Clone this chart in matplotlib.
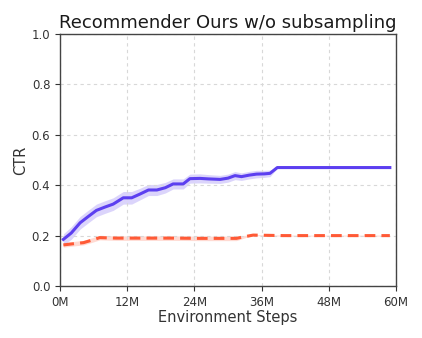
import matplotlib
matplotlib.use("Agg")
import matplotlib.pyplot as plt
import numpy as np

# Data (x in millions of environment steps)
blue_x = [0.6, 2.0, 3.6, 5.0, 6.5, 8.0, 9.5, 11.3, 12.8, 14.3, 15.8, 17.3, 18.8, 20.2, 22.0, 23.2, 25.0, 26.5, 28.6, 30.0, 31.25, 32.4, 33.8, 35.1, 36.5, 37.5, 38.8, 42, 46, 50, 54, 58.9]
blue_y = [0.185, 0.21, 0.251, 0.275, 0.30, 0.313, 0.325, 0.35, 0.35, 0.365, 0.381, 0.381, 0.39, 0.405, 0.405, 0.426, 0.427, 0.425, 0.423, 0.428, 0.438, 0.434, 0.44, 0.444, 0.445, 0.447, 0.47, 0.47, 0.47, 0.47, 0.47, 0.47]
blue_err = [0.022, 0.025, 0.025, 0.025, 0.025, 0.025, 0.025, 0.025, 0.025, 0.023, 0.022, 0.022, 0.021, 0.02, 0.02, 0.018, 0.018, 0.017, 0.016, 0.016, 0.016, 0.015, 0.015, 0.015, 0.014, 0.013, 0.003, 0.003, 0.003, 0.003, 0.003, 0.003]

red_x = [0.6, 2.5, 4.2, 5.7, 7.1, 10, 15, 20, 25, 28, 31.5, 33.0, 34.5, 40, 46, 52, 58.9]
red_y = [0.163, 0.168, 0.172, 0.182, 0.192, 0.19, 0.19, 0.19, 0.189, 0.189, 0.189, 0.196, 0.202, 0.2, 0.2, 0.2, 0.2]
red_err = [0.009, 0.009, 0.009, 0.009, 0.009, 0.009, 0.009, 0.009, 0.009, 0.009, 0.009, 0.005, 0.002, 0.002, 0.002, 0.002, 0.002]

x_ticks = [0, 12, 24, 36, 48, 60]
x_tick_labels = ["0M", "12M", "24M", "36M", "48M", "60M"]
y_ticks = [0.0, 0.2, 0.4, 0.6, 0.8, 1.0]

blue_c = "#5c3ff0"
red_c = "#ff5a36"

fig = plt.figure(figsize=(4.22, 3.38), dpi=100)
ax = fig.add_axes([60/422, 52/338, 336/422, 252/338])

bx, by, be = map(np.array, (blue_x, blue_y, blue_err))
rx, ry, re = map(np.array, (red_x, red_y, red_err))

ax.fill_between(bx, by - be, by + be, color=blue_c, alpha=0.22, linewidth=0)
ax.plot(bx, by, color=blue_c, linewidth=2.2)
ax.fill_between(rx, ry - re, ry + re, color=red_c, alpha=0.22, linewidth=0)
ax.plot(rx, ry, color=red_c, linewidth=2.2, linestyle=(0, (3.5, 2)))

ax.set_xlim(0, 60)
ax.set_ylim(0, 1.0)
ax.set_xticks(x_ticks)
ax.set_xticklabels(x_tick_labels)
ax.set_yticks(y_ticks)
ax.set_yticklabels([f"{v:.1f}" for v in y_ticks])
ax.tick_params(labelsize=8.5, colors="#333333", length=3.5, width=0.8)
ax.grid(True, linestyle=(0, (3, 3)), color="#d8d8d8", linewidth=0.8)
for s in ax.spines.values():
    s.set_color("#444444")
    s.set_linewidth(1.0)

ax.set_title("Recommender Ours w/o subsampling", fontsize=13, color="#1a1a1a", pad=4)
ax.set_xlabel("Environment Steps", fontsize=10.5, color="#333333", labelpad=1)
ax.set_ylabel("CTR", fontsize=10.5, color="#333333", labelpad=2.5)

fig.savefig("out.png", dpi=100)
